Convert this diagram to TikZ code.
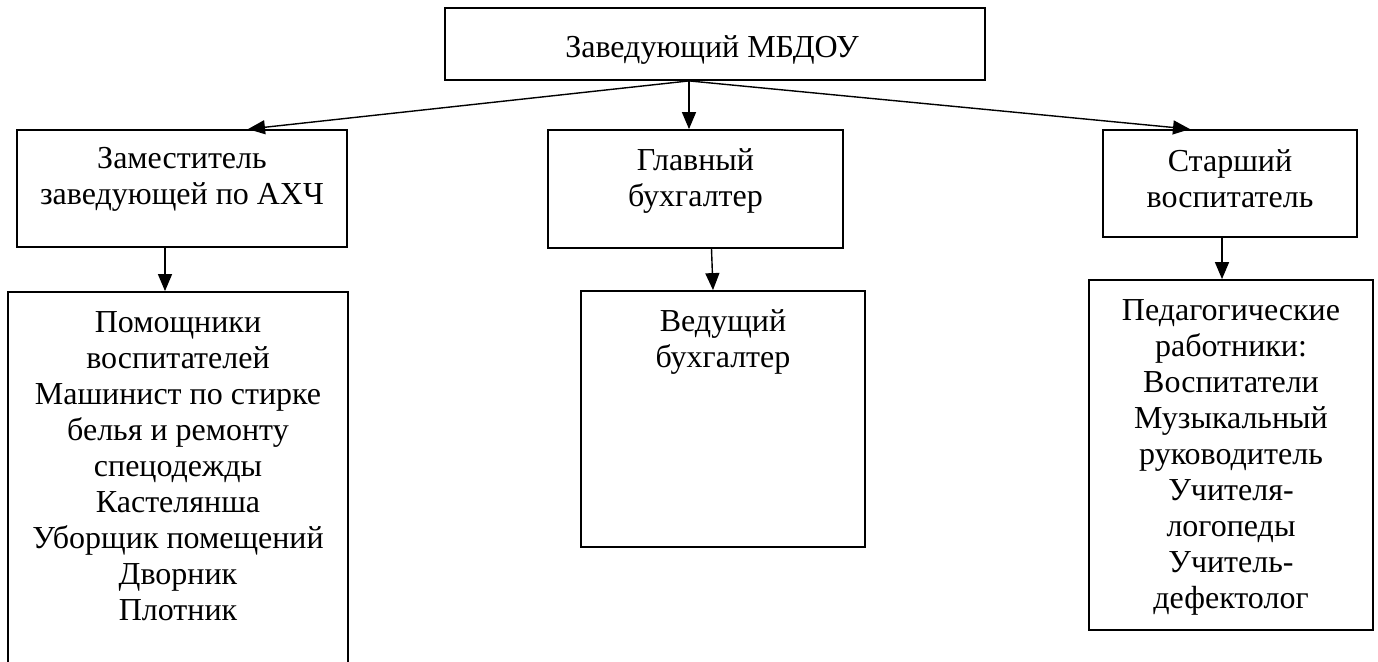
\documentclass[tikz,border=0pt]{standalone}
\usepackage{fontspec}
\setmainfont{Liberation Serif}
\tikzset{unit/.style = {draw, line width = 1.8pt, inner sep = 0}}
\tikzset{txt/.style = {anchor = north, inner sep = 0, align = center, font = \fontsize{32}{36}\selectfont}}
\tikzset{link/.style = {line width = 1.4pt, -{Triangle[length = 17pt, width = 14pt]}}}
\usetikzlibrary{calc,arrows.meta}

\begin{document}
\begin{tikzpicture}[x = 1pt, y = -1pt]
\clip (0,0) rectangle (1378,661);
% boxes
\node[unit, minimum width = 540pt, minimum height = 72pt] (head) at (715,44) {};
\node[unit, minimum width = 330pt, minimum height = 117pt] (deputy) at (182,188.5) {};
\node[unit, minimum width = 295pt, minimum height = 118pt] (chief) at (695.5,189) {};
\node[unit, minimum width = 254pt, minimum height = 107pt] (senior) at (1230,183.5) {};
\node[unit, minimum width = 340pt, minimum height = 420pt] (staff) at (178,502) {};
\node[unit, minimum width = 284pt, minimum height = 256pt] (lead) at (723,419) {};
\node[unit, minimum width = 284pt, minimum height = 350pt] (teachers) at (1231,455) {};
% texts
\node[txt, anchor = base] (headtxt) at (712,57) {Заведующий МБДОУ};
\node[txt] (deputytxt) at ($(deputy.north)+(0,18)$) {Заместитель\\заведующей по АХЧ};
\node[txt] (chieftxt) at ($(chief.north)+(0,19)$) {Главный\\бухгалтер};
\node[txt] (seniortxt) at ($(senior.north)+(0,20)$) {Старший\\воспитатель};
\node[txt] (stafftxt) at ($(staff.north)+(0,20)$) {Помощники\\воспитателей\\Машинист по стирке\\белья и ремонту\\спецодежды\\Кастелянша\\Уборщик помещений\\Дворник\\Плотник};
\node[txt] (leadtxt) at ($(lead.north)+(0,19)$) {Ведущий\\бухгалтер};
\node[txt] (teacherstxt) at ($(teachers.north)+(0,20)$) {Педагогические\\работники:\\Воспитатели\\Музыкальный\\руководитель\\Учителя-\\логопеды\\Учитель-\\дефектолог};
% links
\coordinate (fork) at ($(head.south)+(-26,0)$);
\draw[link] (fork) -- ($(deputy.north)+(66,0)$);
\draw[link] (fork) -- ($(chief.north)+(-6.5,0)$);
\draw[link] (fork) -- ($(senior.north)+(-40,0)$);
\draw[link] ($(deputy.south)+(-17,0)$) -- ($(staff.north)+(-13,0)$);
\draw[link] ($(chief.south)+(16,0)$) -- ($(lead.north)+(-10,0)$);
\draw[link] ($(senior.south)+(-8,0)$) -- ($(teachers.north)+(-9,0)$);
\end{tikzpicture}
\end{document}
